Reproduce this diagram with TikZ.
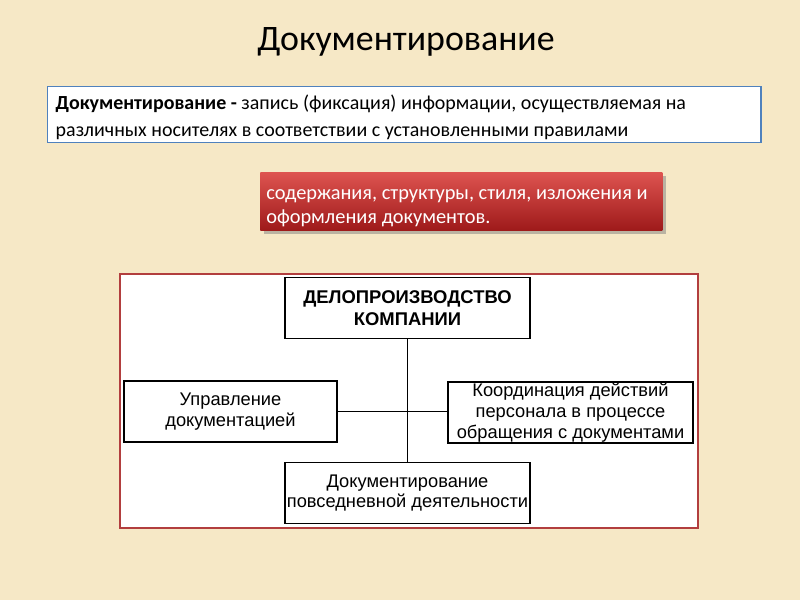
\documentclass[tikz,border=0pt]{standalone}
\usepackage{fontspec}
\setmainfont{Carlito}
\newfontfamily\arialfont{Liberation Sans}
\usetikzlibrary{shadows}

\definecolor{bgcream}{RGB}{246,232,198}
\definecolor{defblue}{RGB}{79,129,189}
\definecolor{redtop}{RGB}{222,84,80}
\definecolor{redbottom}{RGB}{158,26,26}
\definecolor{framered}{RGB}{178,62,62}

\begin{document}
\begin{tikzpicture}[x=0.025cm, y=-0.025cm,
    orgbox/.style={draw=black, line width=0.9pt, fill=white, align=center, inner sep=0pt,
                   minimum height=1.52cm, font=\arialfont\fontsize{13}{14.8}\selectfont},
    plainspace/.style={execute at begin node={\spaceskip=0pt\xspaceskip=0pt}},
    link/.style={draw=black, line width=0.9pt}]
  % background
  \fill[bgcream] (0,0) rectangle (800,600);
  \node (title) at (406,42) {\fontsize{25.5}{30}\selectfont Документирование};
  % definition
  \node[draw=defblue, line width=1pt, fill=white, anchor=north west, minimum width=17.825cm,
        minimum height=1.4cm, text width=17.425cm, inner xsep=0.2cm, inner ysep=0pt,
        align=left, plainspace, font=\fontsize{14.2}{19}\selectfont] (defbox) at (47,86)
    {\rule{0pt}{14.5pt}\textbf{Документирование -} запись (фиксация) информации, осуществляемая на\\
     различных носителях в соответствии с установленными правилами};
  \node[top color=redtop, bottom color=redbottom, drop shadow, anchor=north west,
        minimum width=10.05cm, minimum height=1.45cm, text width=9.75cm, inner xsep=0.15cm,
        inner ysep=0pt, align=left, plainspace, text=white,
        font=\fontsize{14.5}{17.5}\selectfont] (scope) at (260,172)
    {\rule{0pt}{17pt}содержания, структуры, стиля, изложения и\\ оформления документов.};
  % org chart
  \node[draw=framered, line width=1.2pt, fill=white, anchor=north west,
        minimum width=14.45cm, minimum height=6.35cm] (frame) at (119,273) {};
  \node[orgbox, minimum width=6.125cm, font=\arialfont\bfseries\fontsize{13.1}{16}\selectfont]
    (head) at (407.5,308) {ДЕЛОПРОИЗВОДСТВО\\КОМПАНИИ};
  \node[orgbox, minimum width=5.325cm] (manage) at (230.5,411.5) {Управление\\документацией};
  \node[orgbox, minimum width=6.125cm] (coord) at (570.5,412.5)
    {Координация действий\\персонала в процессе\\обращения с документами};
  \node[orgbox, minimum width=6.125cm] (daily) at (407.5,493)
    {Документирование\\повседневной деятельности};
  \draw[link] (head.south) -- (daily.north);
  \draw[link] (manage.east) -- (manage.east -| coord.west);
\end{tikzpicture}
\end{document}
